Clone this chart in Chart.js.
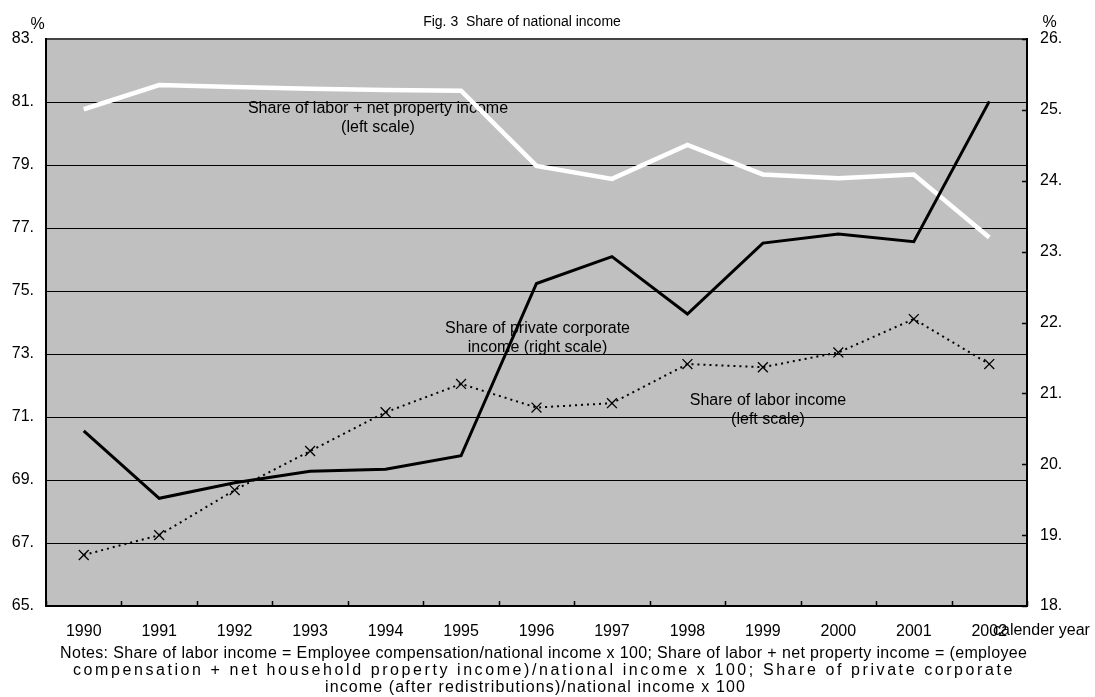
<!DOCTYPE html>
<html>
<head>
<meta charset="utf-8">
<script src="https://cdn.jsdelivr.net/npm/chart.js@4/dist/chart.umd.min.js"></script>
<style>
  html, body { margin: 0; padding: 0; background: #ffffff; }
  canvas { display: block; }
</style>
</head>
<body>
<canvas id="chart" width="1095" height="697"></canvas>
<script>
// Calendar years on the horizontal axis
const years = ['1990', '1991', '1992', '1993', '1994', '1995', '1996',
               '1997', '1998', '1999', '2000', '2001', '2002'];

// Share of labor + net property income, % (left scale)
const laborNetPropertyShare = [80.77, 81.54, 81.48, 81.42, 81.38, 81.36, 78.97,
                               78.56, 79.64, 78.70, 78.58, 78.70, 76.70];

// Share of private corporate income, % (right scale)
const privateCorporateShare = [20.47, 19.52, 19.74, 19.90, 19.93, 20.12, 22.55,
                               22.93, 22.12, 23.12, 23.25, 23.14, 25.12];

// Share of labor income, % (left scale)
const laborShare = [66.62, 67.25, 68.68, 69.92, 71.15, 72.05, 71.30,
                    71.44, 72.68, 72.58, 73.05, 74.11, 72.68];

// Axis ranges
const leftRange = [65, 83];
const leftStep = 2;
const rightRange = [18, 26];
const rightStep = 1;

// Texts
const titleText = 'Fig. 3  Share of national income';
const unitText = '%';
const xAxisTitle = 'calender year';
const seriesCaptions = [
  ['Share of labor + net property income', '(left scale)'],
  ['Share of private corporate', 'income (right scale)'],
  ['Share of labor income', '(left scale)']
];
const notesLines = [
  'Notes: Share of labor income = Employee compensation/national income x 100; Share of labor + net property income = (employee',
  'compensation + net household property income)/national income x 100; Share of private corporate',
  'income (after redistributions)/national income x 100'
];

const FONT = '"Liberation Sans", Arial, sans-serif';
const tickLabel = v => v + '.';

// Page layout (pixels)
const layout = {
  captionPos: [[378, 108.5], [537.5, 328.5], [768, 400.5]],
  captionLineGap: 19,
  notesSpans: [[60, 1027], [73, 1012], [325, 745]],
  notesY: [654, 671, 688],
  titlePos: [522, 22],
  leftUnitPos: [37.5, 25],
  rightUnitPos: [1049.5, 23],
  xTitlePos: [993, 631]
};

// Draws one line of text spread between two x positions
function spreadText(ctx, text, x0, x1, y) {
  ctx.letterSpacing = '0px';
  const natural = ctx.measureText(text).width;
  const extra = Math.max(0, (x1 - x0) - natural) / Math.max(1, text.length - 1);
  ctx.letterSpacing = extra.toFixed(2) + 'px';
  ctx.textAlign = 'left';
  ctx.fillText(text, x0, y);
  ctx.letterSpacing = '0px';
}

// Grey plot background, inward tick marks and free text
const decorations = {
  id: 'decorations',
  beforeDraw(chart) {
    const { ctx, chartArea: a } = chart;
    ctx.save();
    ctx.fillStyle = '#c0c0c0';
    ctx.fillRect(a.left, a.top, a.right - a.left, a.bottom - a.top);
    ctx.restore();
  },
  beforeDatasetsDraw(chart) {
    const { ctx, chartArea: a, scales } = chart;
    ctx.save();
    ctx.strokeStyle = '#000';
    ctx.lineWidth = 1.5;
    // category boundary ticks on the x axis, pointing up into the plot
    const x = scales.x;
    for (let i = 0; i <= years.length; i++) {
      const px = Math.round(x.getPixelForValue(i - 0.5)) + 0.5;
      ctx.beginPath();
      ctx.moveTo(px, a.bottom);
      ctx.lineTo(px, a.bottom - 5);
      ctx.stroke();
    }
    // right scale ticks, pointing left into the plot
    const y1 = scales.y1;
    for (let v = rightRange[0]; v <= rightRange[1]; v += rightStep) {
      const py = Math.round(y1.getPixelForValue(v)) + 0.5;
      ctx.beginPath();
      ctx.moveTo(a.right, py);
      ctx.lineTo(a.right - 5, py);
      ctx.stroke();
    }
    // series captions
    ctx.fillStyle = '#000';
    ctx.font = '16px ' + FONT;
    ctx.textAlign = 'center';
    ctx.textBaseline = 'middle';
    seriesCaptions.forEach((lines, k) => {
      const [cx, cy] = layout.captionPos[k];
      lines.forEach((t, j) => ctx.fillText(t, cx, cy + j * layout.captionLineGap));
    });
    ctx.restore();
  },
  afterDraw(chart) {
    const { ctx } = chart;
    ctx.save();
    ctx.fillStyle = '#000';
    ctx.textBaseline = 'middle';
    ctx.textAlign = 'center';
    ctx.font = '14px ' + FONT;
    ctx.fillText(titleText, layout.titlePos[0], layout.titlePos[1]);
    ctx.font = '16px ' + FONT;
    ctx.fillText(unitText, layout.leftUnitPos[0], layout.leftUnitPos[1]);
    ctx.fillText(unitText, layout.rightUnitPos[0], layout.rightUnitPos[1]);
    notesLines.forEach((t, j) => {
      const [x0, x1] = layout.notesSpans[j];
      spreadText(ctx, t, x0, x1, layout.notesY[j]);
    });
    ctx.textAlign = 'left';
    ctx.fillText(xAxisTitle, layout.xTitlePos[0], layout.xTitlePos[1]);
    ctx.restore();
  }
};

new Chart(document.getElementById('chart'), {
  type: 'line',
  data: {
    labels: years,
    datasets: [
      {
        label: 'Share of private corporate income (right scale)',
        data: privateCorporateShare,
        yAxisID: 'y1',
        borderColor: '#000',
        borderWidth: 3,
        pointRadius: 0,
        tension: 0,
        order: 0
      },
      {
        label: 'Share of labor income (left scale)',
        data: laborShare,
        yAxisID: 'y',
        borderColor: '#000',
        borderWidth: 2,
        borderDash: [2, 4],
        pointStyle: 'crossRot',
        pointRadius: 7,
        pointBorderWidth: 1.3,
        pointBorderColor: '#000',
        pointBackgroundColor: '#000',
        tension: 0,
        order: 1
      },
      {
        label: 'Share of labor + net property income (left scale)',
        data: laborNetPropertyShare,
        yAxisID: 'y',
        borderColor: '#ffffff',
        borderWidth: 4.5,
        pointRadius: 0,
        tension: 0,
        order: 2
      }
    ]
  },
  options: {
    responsive: false,
    animation: false,
    devicePixelRatio: 1,
    layout: { padding: { top: 39, left: 0, right: 0, bottom: 0 } },
    plugins: {
      legend: { display: false },
      tooltip: { enabled: false },
      title: { display: false }
    },
    scales: {
      x: {
        type: 'category',
        offset: true,
        grid: { display: false, drawTicks: false },
        border: { display: true, color: '#000', width: 2 },
        ticks: {
          color: '#000',
          font: { family: FONT, size: 16 },
          padding: 16,
          maxRotation: 0,
          autoSkip: false
        },
        afterFit(scale) { scale.height = 91; }
      },
      y: {
        position: 'left',
        min: leftRange[0],
        max: leftRange[1],
        grid: {
          drawTicks: false,
          color: c => (c.tick && c.tick.value === leftRange[1]) ? '#444' : '#000',
          lineWidth: c => (c.tick && c.tick.value === leftRange[1]) ? 2 : 1
        },
        border: { display: true, color: '#000', width: 2 },
        ticks: {
          stepSize: leftStep,
          color: '#000',
          font: { family: FONT, size: 16 },
          padding: 12,
          callback: tickLabel
        },
        afterFit(scale) { scale.width = 46; }
      },
      y1: {
        position: 'right',
        min: rightRange[0],
        max: rightRange[1],
        grid: { drawOnChartArea: false, drawTicks: false },
        border: { display: true, color: '#000', width: 2 },
        ticks: {
          stepSize: rightStep,
          color: '#000',
          font: { family: FONT, size: 16 },
          padding: 13,
          callback: tickLabel
        },
        afterFit(scale) { scale.width = 68; }
      }
    }
  },
  plugins: [decorations]
});
</script>
</body>
</html>
